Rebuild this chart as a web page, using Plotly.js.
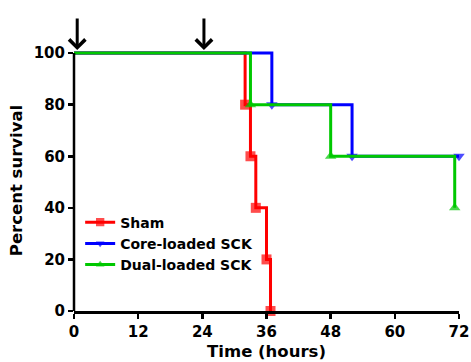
<!DOCTYPE html>
<html>
<head>
<meta charset="utf-8">
<script src="https://cdn.plot.ly/plotly-3.0.1.min.js"></script>
<style>html,body{margin:0;padding:0;background:#fff;}#chart{width:471px;height:362px;}</style>
</head>
<body>
<div id="chart"></div>
<script>
// Survival data (hours, percent survival)
const seriesNames = ["Sham", "Core-loaded SCK", "Dual-loaded SCK"];
const shamTime = [0, 32, 33, 34, 36, 36.75];
const shamSurvival = [100, 80, 60, 40, 20, 0];
const coreTime = [0, 37, 52, 72];
const coreSurvival = [100, 80, 60, 60];
const dualTime = [0, 33, 48, 71.2];
const dualSurvival = [100, 80, 60, 40];
const xTicks = [0, 12, 24, 36, 48, 60, 72];
const yTicks = [0, 20, 40, 60, 80, 100];
const doseTimes = [0.6, 24.3];

const FONT = "DejaVu Sans, Arial, sans-serif";
const colors = ["#FF0000", "#0000FF", "#00C800"];
const symbols = ["square", "triangle-down", "triangle-up"];
const xs = [shamTime, coreTime, dualTime];
const ys = [shamSurvival, coreSurvival, dualSurvival];
const yMaxRange = 101.2;

const traces = xs.map((x, i) => ({
  type: "scatter",
  mode: "lines+markers",
  name: seriesNames[i],
  x: x,
  y: ys[i],
  line: {shape: "hv", color: colors[i], width: 3},
  marker: {symbol: symbols[i], color: colors[i], line: {width: 0},
           size: x.map((_, k) => k === 0 ? 0 : 10)},
  cliponaxis: false
}));

const annotations = doseTimes.map(t => ({
  x: t, y: 100, xref: "x", yref: "y", yshift: 3,
  showarrow: true, arrowhead: 4, arrowsize: 1.05, arrowwidth: 3,
  arrowcolor: "#000", ax: 0, ay: -40, text: " "
}));

const layout = {
  width: 471, height: 362,
  margin: {l: 74, r: 12, t: 50, b: 51},
  paper_bgcolor: "#fff", plot_bgcolor: "rgba(0,0,0,0)",
  font: {family: FONT, color: "#000"},
  showlegend: true,
  legend: {
    x: 0.016, y: 0.40, xanchor: "left", yanchor: "top",
    bgcolor: "rgba(0,0,0,0)",
    font: {family: FONT, size: 14, color: "#000", weight: "bold"},
    itemwidth: 30
  },
  xaxis: {
    range: [0, 72], tickvals: xTicks, ticktext: xTicks.map(String),
    showline: true, linecolor: "#000", linewidth: 2.5,
    ticks: "outside", ticklen: 5, tickwidth: 2.5, tickcolor: "#000",
    showgrid: false, zeroline: false,
    tickfont: {family: FONT, size: 15, weight: "bold"},
    title: {text: "Time (hours)", font: {family: FONT, size: 16.5, weight: "bold"}, standoff: 6}
  },
  yaxis: {
    range: [0, yMaxRange], tickvals: yTicks, ticktext: yTicks.map(String),
    showline: false,
    ticks: "outside", ticklen: 5, tickwidth: 2.5, tickcolor: "#000",
    showgrid: false, zeroline: false,
    tickfont: {family: FONT, size: 15, weight: "bold"},
    title: {text: "Percent survival", font: {family: FONT, size: 16.5, weight: "bold"}, standoff: 6}
  },
  shapes: [{
    type: "line", xref: "paper", yref: "paper", x0: 0, x1: 0, y0: 0, y1: 100 / yMaxRange,
    line: {color: "#000", width: 2.5}, layer: "above"
  }],
  annotations: annotations
};

Plotly.newPlot("chart", traces, layout, {displayModeBar: false, staticPlot: true});
</script>
</body>
</html>
